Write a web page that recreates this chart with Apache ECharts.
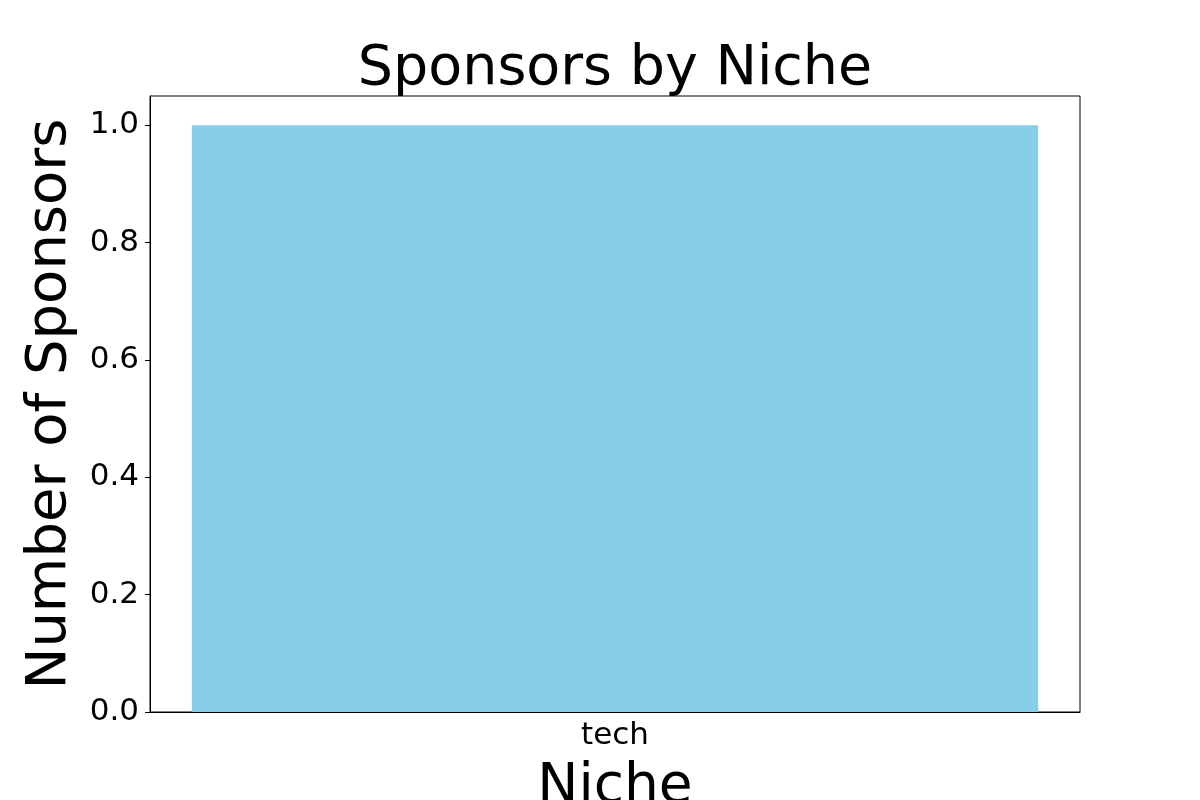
<!DOCTYPE html>
<html>
<head>
<meta charset="utf-8">
<script src="https://cdn.jsdelivr.net/npm/echarts@6/dist/echarts.min.js"></script>
<style>
  html, body { margin: 0; padding: 0; background: #fff; }
  #chart { width: 1200px; height: 800px; }
</style>
</head>
<body>
<div id="chart"></div>
<script>
// 赞助商按领域统计
const niches = ['tech'];
const sponsorCounts = [1];
const yTicks = [0, 0.2, 0.4, 0.6, 0.8, 1.0];

const font = 'DejaVu Sans';
const chart = echarts.init(document.getElementById('chart'));

const option = {
    animation: false,
    title: {
        text: 'Sponsors by Niche',
        left: 610,
        top: 37,
        textAlign: 'center',
        textStyle: { fontFamily: font, fontSize: 55.5, fontWeight: 'normal', color: '#000' }
    },
    grid: {
        left: 150, right: 120, top: 96, bottom: 88,
        outerBoundsMode: 'none',
        containLabel: false,
        show: true, borderColor: '#000', borderWidth: 1
    },
    xAxis: {
        type: 'category',
        data: niches,
        name: 'Niche',
        nameLocation: 'middle',
        nameGap: 48,
        nameTextStyle: { fontFamily: font, fontSize: 55, color: '#000' },
        axisLine: { lineStyle: { color: '#000', width: 1 } },
        axisTick: { alignWithLabel: true, length: 5, lineStyle: { color: '#000' } },
        axisLabel: { fontFamily: font, fontSize: 31, color: '#000', margin: 8 }
    },
    yAxis: {
        type: 'value',
        min: 0,
        max: 1.05,
        interval: 0.2,
        name: 'Number of Sponsors',
        nameLocation: 'middle',
        nameRotate: 90,
        nameGap: 64,
        nameTextStyle: { fontFamily: font, fontSize: 56, color: '#000' },
        splitLine: { show: false },
        axisLine: { show: true, lineStyle: { color: '#000', width: 1 } },
        axisTick: { show: true, length: 5, lineStyle: { color: '#000' } },
        axisLabel: {
            fontFamily: font, fontSize: 31, color: '#000', margin: 11,
            showMaxLabel: false,
            formatter: function (v) {
                return yTicks.some(t => Math.abs(t - v) < 1e-9) ? v.toFixed(1) : '';
            }
        }
    },
    series: [{
        type: 'bar',
        data: sponsorCounts,
        barWidth: '91%',
        itemStyle: { color: '#87CEEB' }
    }]
};

chart.setOption(option);
</script>
</body>
</html>
